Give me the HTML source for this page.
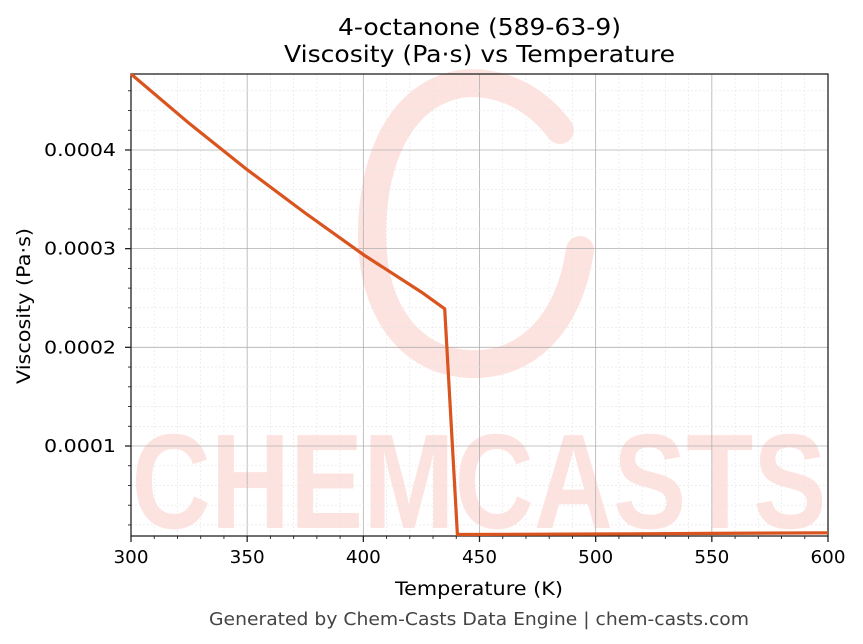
<!DOCTYPE html>
<html><head><meta charset="utf-8"><style>
body{margin:0;background:#fff;}
svg{display:block;font-family:"DejaVu Sans","Liberation Sans",sans-serif;}
</style></head><body>
<svg id="chart" width="863" height="644" viewBox="0 0 863 644">
<g>
<path d="M560,130 C530,90 490,80 460,84 C400,95 372,160 372,235 C372,310 410,362 470,364 C530,366 570,320 580,250" fill="none" stroke="#fde3df" stroke-width="28" stroke-linecap="round"/>
<text x="479" y="528" text-anchor="middle" font-family="Liberation Sans,sans-serif" font-weight="bold" font-size="135" fill="#fde3df" textLength="695" lengthAdjust="spacingAndGlyphs">CHEMCASTS</text>
</g>
<g id="grid"></g>
<rect x="131" y="74" width="697" height="462" fill="none" stroke="#222" stroke-width="1.3"/>
<g id="ticks"></g>
<path id="line" fill="none" stroke="#d9541e" stroke-width="3.2" stroke-linejoin="round"/>
<text x="479.5" y="35" text-anchor="middle" font-size="23" fill="#000" textLength="283" lengthAdjust="spacingAndGlyphs">4-octanone (589-63-9)</text>
<text x="479.5" y="62" text-anchor="middle" font-size="23" fill="#000" textLength="391" lengthAdjust="spacingAndGlyphs">Viscosity (Pa·s) vs Temperature</text>
<text x="479" y="595" text-anchor="middle" font-size="19" fill="#000" textLength="168" lengthAdjust="spacingAndGlyphs">Temperature (K)</text>
<text transform="translate(30,306) rotate(-90)" text-anchor="middle" font-size="19" fill="#000" textLength="156" lengthAdjust="spacingAndGlyphs">Viscosity (Pa·s)</text>
<text x="479" y="625" text-anchor="middle" font-size="17.5" fill="#444" textLength="540" lengthAdjust="spacingAndGlyphs">Generated by Chem-Casts Data Engine | chem-casts.com</text>
</svg>
<script>
const temps=[300,325,350,375,400,425,435,440.5,500,550,600];
const visc=[0.000477,0.000427,0.000380,0.000336,0.000294,0.000256,0.000239,0.0000103,0.0000108,0.0000114,0.000012];
const xTicks=[300,350,400,450,500,550,600];
const yTicks=[0.0001,0.0002,0.0003,0.0004];
const yTickLabels=["0.0001","0.0002","0.0003","0.0004"];
const X0=131,X1=828,Y0=536,Y1=74,xmin=300,xmax=600,ymin=0.0000088,ymax=0.000477;
const xs=v=>X0+(v-xmin)/(xmax-xmin)*(X1-X0);
const ys=v=>Y0-(v-ymin)/(ymax-ymin)*(Y0-Y1);
const NS="http://www.w3.org/2000/svg";
const grid=document.getElementById('grid'),ticks=document.getElementById('ticks');
function ln(p,x1,y1,x2,y2,s,w,d){const l=document.createElementNS(NS,'line');l.setAttribute('x1',x1);l.setAttribute('y1',y1);l.setAttribute('x2',x2);l.setAttribute('y2',y2);l.setAttribute('stroke',s);l.setAttribute('stroke-width',w);if(d)l.setAttribute('stroke-dasharray',d);p.appendChild(l);return l;}
function tx(x,y,t,a,len){const e=document.createElementNS(NS,'text');e.setAttribute('x',x);e.setAttribute('y',y);e.setAttribute('text-anchor',a);e.setAttribute('font-size','18');e.setAttribute('textLength',len);e.setAttribute('lengthAdjust','spacingAndGlyphs');e.textContent=t;ticks.appendChild(e);return e;}
for(let v=300;v<=600;v+=10){const x=xs(v);const major=v%50===0;
 const g=ln(grid,x,Y1,x,Y0,major?'#b0b0b0':'#e4e4e4',major?0.8:0.6,major?null:'2,2');
 
 
 const t=ln(ticks,x,Y0,x,Y0+(major?6:3),'#222',major?1.3:0.9);
 
 }
for(let k=1;k<=23;k++){const v=k*0.00002;const y=ys(v);if(y<Y1||y>Y0)continue;const major=k%5===0;
 const g=ln(grid,X0,y,X1,y,major?'#b0b0b0':'#e4e4e4',major?0.8:0.6,major?null:'2,2');
 
 
 const t=ln(ticks,X0-(major?6:3),y,X0,y,'#222',major?1.3:0.9);
 
 }
xTicks.forEach(v=>{const e=tx(xs(v),563,String(v),'middle',35);
 
 });
yTicks.forEach((v,i)=>{const e=tx(X0-15,ys(v)+6,yTickLabels[i],'end',72);
 
 });
document.getElementById('line').setAttribute('d',temps.map((t,i)=>(i?'L':'M')+xs(t).toFixed(1)+','+ys(visc[i]).toFixed(1)).join(''));
</script>
</body></html>
